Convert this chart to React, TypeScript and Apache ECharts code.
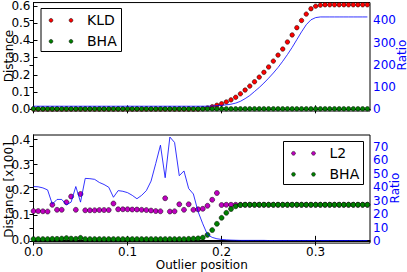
import React, { useEffect, useRef } from "react";
import * as echarts from "echarts";

// x positions of the outlier (one sample every 0.005)
const positions = [
  0, 0.005, 0.01, 0.015, 0.02, 0.025, 0.03, 0.035, 0.04, 0.045,
  0.05, 0.055, 0.06, 0.065, 0.07, 0.075, 0.08, 0.085, 0.09, 0.095,
  0.1, 0.105, 0.11, 0.115, 0.12, 0.125, 0.13, 0.135, 0.14, 0.145,
  0.15, 0.155, 0.16, 0.165, 0.17, 0.175, 0.18, 0.185, 0.19, 0.195,
  0.2, 0.205, 0.21, 0.215, 0.22, 0.225, 0.23, 0.235, 0.24, 0.245,
  0.25, 0.255, 0.26, 0.265, 0.27, 0.275, 0.28, 0.285, 0.29, 0.295,
  0.3, 0.305, 0.31, 0.315, 0.32, 0.325, 0.33, 0.335, 0.34, 0.345, 0.35, 0.355,
];

const xTicks = [0, 0.1, 0.2, 0.3];
const topLeftTicks = [0, 0.1, 0.2, 0.3, 0.4, 0.5, 0.6];
const topRightTicks = [0, 100, 200, 300, 400];
const bottomLeftTicks = [0, 0.1, 0.2, 0.3, 0.4];
const bottomRightTicks = [0, 10, 20, 30, 40, 50, 60, 70];

// top panel
const kld = [
  0.002, 0.002, 0.002, 0.002, 0.002, 0.002, 0.002, 0.002, 0.002, 0.002,
  0.002, 0.002, 0.002, 0.002, 0.002, 0.002, 0.002, 0.002, 0.002, 0.002,
  0.002, 0.002, 0.002, 0.002, 0.002, 0.002, 0.002, 0.002, 0.002, 0.002,
  0.002, 0.002, 0.002, 0.002, 0.002, 0.002, 0.004, 0.008, 0.015, 0.024,
  0.032, 0.043, 0.055, 0.07, 0.09, 0.112, 0.135, 0.16, 0.187, 0.215,
  0.246, 0.28, 0.315, 0.35, 0.391, 0.432, 0.474, 0.516, 0.553, 0.584,
  0.599, 0.605, 0.607, 0.607, 0.607, 0.607, 0.607, 0.607, 0.607, 0.607, 0.607, 0.607,
];
const bhaTop = [
  0.003, 0.003, 0.003, 0.003, 0.003, 0.003, 0.003, 0.003, 0.003, 0.003,
  0.003, 0.003, 0.003, 0.003, 0.003, 0.003, 0.003, 0.003, 0.003, 0.003,
  0.003, 0.003, 0.003, 0.003, 0.003, 0.003, 0.003, 0.003, 0.003, 0.003,
  0.003, 0.003, 0.003, 0.003, 0.003, 0.003, 0.003, 0.003, 0.003, 0.003,
  0.003, 0.003, 0.003, 0.003, 0.003, 0.003, 0.003, 0.003, 0.003, 0.003,
  0.003, 0.003, 0.003, 0.003, 0.003, 0.003, 0.003, 0.003, 0.003, 0.003,
  0.003, 0.003, 0.003, 0.003, 0.003, 0.003, 0.003, 0.003, 0.003, 0.003, 0.003, 0.003,
];
const ratioTop = [
  14, 14, 14, 14, 14, 14, 14, 14, 14, 14,
  14, 14, 14, 14, 14, 14, 14, 14, 14, 14,
  14, 14, 14, 14, 14, 14, 14, 14, 14, 14,
  14, 14, 14, 14, 14, 14, 14, 14, 15, 16.5,
  18, 20, 23, 28, 36, 48, 62, 80, 98, 118,
  140, 163, 188, 216, 246, 278, 313, 348, 380, 402,
  412, 415, 415, 415, 415, 415, 415, 415, 415, 415, 415, 415,
];

// bottom panel
const l2 = [
  0.115, 0.115, 0.114, 0.113, 0.14, 0.12, 0.12, 0.15, 0.173, 0.12,
  0.183, 0.118, 0.118, 0.118, 0.119, 0.119, 0.119, 0.145, 0.122, 0.122,
  0.122, 0.121, 0.121, 0.12, 0.119, 0.117, 0.115, 0.114, 0.166, 0.113,
  0.114, 0.142, 0.12, 0.142, 0.12, 0.122, 0.124, 0.136, 0.16, 0.187,
  0.139, 0.14, 0.14, 0.14, 0.14, 0.14, 0.14, 0.14, 0.14, 0.14,
  0.14, 0.14, 0.14, 0.14, 0.14, 0.14, 0.14, 0.14, 0.14, 0.14,
  0.14, 0.14, 0.14, 0.14, 0.14, 0.14, 0.14, 0.14, 0.14, 0.14, 0.14, 0.14,
];
const bhaBottom = [
  0.003, 0.003, 0.003, 0.003, 0.004, 0.004, 0.005, 0.007, 0.005, 0.004,
  0.008, 0.003, 0.003, 0.003, 0.003, 0.003, 0.003, 0.003, 0.003, 0.003,
  0.003, 0.003, 0.003, 0.003, 0.003, 0.003, 0.003, 0.003, 0.003, 0.003,
  0.003, 0.003, 0.003, 0.004, 0.005, 0.006, 0.009, 0.02, 0.039, 0.064,
  0.088, 0.108, 0.123, 0.134, 0.139, 0.14, 0.14, 0.14, 0.14, 0.14,
  0.14, 0.14, 0.14, 0.14, 0.14, 0.14, 0.14, 0.14, 0.14, 0.14,
  0.14, 0.14, 0.14, 0.14, 0.14, 0.14, 0.14, 0.14, 0.14, 0.14, 0.14, 0.14,
];
const ratioBottom = [
  40.5, 40.3, 39.5, 38, 27.5, 31, 31, 27, 29, 40.5,
  29, 46.5, 46.3, 45.8, 43.5, 42, 40, 32.6, 37.5, 37,
  36, 34, 31.5, 34, 37.5, 44.5, 57.5, 71, 47, 77,
  73, 48.5, 52, 39, 35, 22, 13, 5, 3, 2,
  1.5, 1.2, 1, 0.9, 0.8, 0.8, 0.8, 0.8, 0.8, 0.8,
  0.7, 0.7, 0.7, 0.7, 0.7, 0.7, 0.7, 0.7, 0.7, 0.7,
  0.7, 0.7, 0.7, 0.7, 0.7, 0.7, 0.7, 0.7, 0.7, 0.7, 0.7, 0.7,
];

const FONT = "DejaVu Sans";
const BLUE = "#0000ff";
const RED = "#ff0000";
const GREEN = "#008000";
const MAGENTA = "#bf00bf";

const zip = (ys: number[]) => positions.map((x, i) => [x, ys[i]]);

function xAxisDef(gridIndex: number, position: string, labels: boolean, name?: string) {
  return {
    type: "value",
    gridIndex,
    position,
    min: 0,
    max: 0.3578,
    name: name || "",
    nameLocation: "middle",
    nameGap: 14,
    nameTextStyle: { fontFamily: FONT, fontSize: 12, color: "#000" },
    axisLine: { show: true, lineStyle: { color: "#000", width: 1 } },
    axisTick: { show: true, inside: true, length: 4, customValues: xTicks, lineStyle: { color: "#000" } },
    axisLabel: {
      show: labels,
      customValues: xTicks,
      margin: 3,
      fontFamily: FONT,
      fontSize: 12,
      color: "#000",
      formatter: (v: number) => v.toFixed(1),
    },
    splitLine: { show: false },
  };
}

function yAxisDef(
  gridIndex: number,
  position: string,
  min: number,
  max: number,
  ticks: number[],
  color: string,
  digits: number
) {
  return {
    type: "value",
    gridIndex,
    position,
    min,
    max,
    axisLine: { show: true, lineStyle: { color: "#000", width: 1 } },
    axisTick: { show: true, inside: true, length: 4, customValues: ticks, lineStyle: { color: "#000" } },
    axisLabel: {
      customValues: ticks,
      margin: 3,
      fontFamily: FONT,
      fontSize: 12,
      color,
      formatter: (v: number) => v.toFixed(digits),
    },
    splitLine: { show: false },
  };
}

function dots(name: string, ys: number[], color: string, xi: number, yi: number, size: number, z: number) {
  return {
    name,
    type: "scatter",
    xAxisIndex: xi,
    yAxisIndex: yi,
    data: zip(ys),
    symbol: "circle",
    symbolSize: size,
    itemStyle: { color, borderColor: "#000", borderWidth: 0.5, opacity: 1 },
    z,
  };
}

function ratioLine(ys: number[], xi: number, yi: number) {
  return {
    name: "Ratio",
    type: "line",
    xAxisIndex: xi,
    yAxisIndex: yi,
    data: zip(ys),
    showSymbol: false,
    symbol: "none",
    lineStyle: { color: BLUE, width: 0.8 },
    z: 5,
  };
}

function axisTitle(text: string, x: number, y: number, color: string) {
  return {
    type: "text",
    x,
    y,
    rotation: Math.PI / 2,
    style: {
      text,
      fill: color,
      font: `12px "${FONT}"`,
      align: "center",
      verticalAlign: "middle",
    },
    z: 50,
  };
}

function legendBox(x: number, y: number, w: number, h: number, entries: { label: string; color: string }[]) {
  const children: any[] = [
    {
      type: "rect",
      shape: { x, y, width: w, height: h },
      style: { fill: "#fff", stroke: "#000", lineWidth: 1 },
      z: 100,
    },
  ];
  entries.forEach((e, k) => {
    const cy = y + 11.8 + k * 21;
    [x + 10, x + 30].forEach((cx) => {
      children.push({
        type: "circle",
        shape: { cx, cy, r: 1.9 },
        style: { fill: e.color, stroke: "#000", lineWidth: 0.5 },
        z: 101,
      });
    });
    children.push({
      type: "text",
      x: x + 46,
      y: cy,
      style: {
        text: e.label,
        fill: "#000",
        font: `14px "${FONT}"`,
        verticalAlign: "middle",
        align: "left",
      },
      z: 101,
    });
  });
  return children;
}

export default function App() {
  const ref = useRef<HTMLDivElement>(null);

  useEffect(() => {
    if (!ref.current) return;
    const chart = echarts.init(ref.current, null, { renderer: "svg" });
    const option: any = {
      animation: false,
      backgroundColor: "#fff",
      textStyle: { fontFamily: FONT },
      grid: [
        { left: 33.5, right: 37, top: 1, height: 110, show: true, borderColor: "#000", borderWidth: 1, containLabel: false },
        { left: 33.5, right: 37, top: 135, height: 110, show: true, borderColor: "#000", borderWidth: 1, containLabel: false },
      ],
      xAxis: [
        xAxisDef(0, "bottom", false),
        xAxisDef(0, "top", false),
        xAxisDef(1, "bottom", true, "Outlier position"),
        xAxisDef(1, "top", false),
      ],
      yAxis: [
        yAxisDef(0, "left", -0.0097, 0.62, topLeftTicks, "#000", 1),
        yAxisDef(0, "right", -7.5, 479.6, topRightTicks, BLUE, 0),
        yAxisDef(1, "left", -0.0129, 0.4184, bottomLeftTicks, "#000", 1),
        yAxisDef(1, "right", -1.2, 78.5, bottomRightTicks, BLUE, 0),
      ],
      series: [
        dots("KLD", kld, RED, 0, 0, 4.5, 2),
        dots("BHA", bhaTop, GREEN, 0, 0, 4.5, 3),
        ratioLine(ratioTop, 0, 1),
        dots("L2", l2, MAGENTA, 2, 2, 5, 2),
        dots("BHA", bhaBottom, GREEN, 2, 2, 5, 3),
        ratioLine(ratioBottom, 2, 3),
      ],
      graphic: [
        axisTitle("Distance", 8.5, 56, "#000"),
        axisTitle("Distance [x100]", 8.5, 190, "#000"),
        axisTitle("Ratio", 401.5, 55, BLUE),
        axisTitle("Ratio", 395, 188, BLUE),
        ...legendBox(41, 8.5, 80.5, 43, [
          { label: "KLD", color: RED },
          { label: "BHA", color: GREEN },
        ]),
        ...legendBox(283.5, 141.5, 80, 43, [
          { label: "L2", color: MAGENTA },
          { label: "BHA", color: GREEN },
        ]),
      ],
    };
    chart.setOption(option);
    return () => chart.dispose();
  }, []);

  return (
    <div
      ref={ref}
      style={{ position: "fixed", left: 0, top: 0, width: 407, height: 272, background: "#fff" }}
    />
  );
}
